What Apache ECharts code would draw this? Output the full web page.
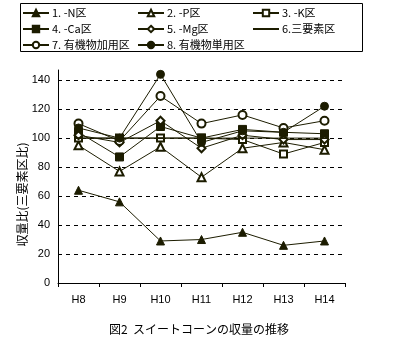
<!DOCTYPE html>
<html><head><meta charset="utf-8">
<script src="https://cdn.jsdelivr.net/npm/echarts@6/dist/echarts.min.js"></script>
<style>html,body{margin:0;padding:0;background:#fff}#c{width:398px;height:353px}</style>
</head><body><div id="c"></div>
<script>
const categories = ['H8','H9','H10','H11','H12','H13','H14'];
const seriesNames = ['1. -N区','2. -P区','3. -K区','4. -Ca区','5. -Mg区','6.三要素区','7. 有機物加用区','8. 有機物単用区'];
const sN  = [64, 56, 29, 30, 35, 26, 29];
const sP  = [95, 77, 94, 73, 93, 97, 92];
const sK  = [100, 100, 100, 100, 99, 89, 97];
const sCa = [104, 87, 108, 100, 106, 104, 103];
const sMg = [102, 97, 112, 93, 102, 99, 99];
const s3  = [100, 100, 100, 100, 100, 100, 100];
const sOA = [110, 98, 129, 110, 116, 107, 112];
const sOS = [107, 100, 144, 97, 105, 104, 122];
const yTicks = [0, 20, 40, 60, 80, 100, 120, 140];
const yAxisName = '収量比(三要素区比)';
const titleText = '図2  スイートコーンの収量の推移';

const C = '#1c1c00';
const FONT = '"Noto Sans CJK JP", sans-serif';
const values = [sN, sP, sK, sCa, sMg, s3, sOA, sOS];
const DASH = 'path://M0,0 L0.01,0 L0,0.01 Z M0,3.8 L10,3.8 L10,6.2 L0,6.2 Z M10,10 L9.99,10 L10,9.99 Z';
const symbols = ['triangle','emptyTriangle','emptyRect','rect','emptyDiamond',DASH,'emptyCircle','circle'];
const sizes = [8, 8, 7, 8, 8, 8, 8, 8];

const series = seriesNames.map((n, i) => ({
  name: n, type: 'line', data: values[i],
  symbol: symbols[i], symbolSize: sizes[i],
  lineStyle: { color: C, width: 1 },
  itemStyle: { color: C, borderColor: C, borderWidth: i === 5 ? 0 : 1 },
  showAllSymbol: true, animation: false, z: 2 + i
}));

function mkLegend(names, left) {
  return {
    data: names, orient: 'vertical', left: left, top: 7,
    itemWidth: 26, itemHeight: 8, itemGap: 4,
    textStyle: { fontFamily: FONT, fontSize: 11, color: '#000', lineHeight: 12, padding: [0,0,0,-2] },
    padding: 0, inactiveColor: '#ccc'
  };
}

const chart = echarts.init(document.getElementById('c'));
chart.setOption({
  backgroundColor: '#fff',
  animation: false,
  title: { text: titleText, left: 'center', top: 318,
    textStyle: { fontFamily: FONT, fontSize: 12, fontWeight: 'normal', color: '#000' } },
  legend: [
    mkLegend([seriesNames[0], seriesNames[3], seriesNames[6]], 22),
    mkLegend([seriesNames[1], seriesNames[4], seriesNames[7]], 137),
    mkLegend([seriesNames[2], seriesNames[5]], 252)
  ],
  graphic: [{ type: 'rect', shape: { x: 20.5, y: 3.5, width: 342, height: 48 },
    style: { fill: 'none', stroke: '#000', lineWidth: 1 }, silent: true }],
  grid: { left: 58, right: 53, top: 70, bottom: 70 },
  xAxis: {
    type: 'category', data: categories, boundaryGap: true,
    axisLine: { lineStyle: { color: '#000', width: 1 } },
    axisTick: { show: true, length: 4, inside: false, lineStyle: { color: '#000' } },
    axisLabel: { fontFamily: '"Liberation Sans", Arial, sans-serif', fontSize: 11, color: '#000', margin: 11 }
  },
  yAxis: {
    type: 'value', min: yTicks[0], max: 147, interval: 20,
    name: yAxisName, nameLocation: 'middle', nameGap: 30, nameRotate: 90, nameMoveOverlap: false,
    nameTextStyle: { fontFamily: FONT, fontSize: 12, color: '#000', padding: [0, 36, 0, 0] },
    axisLine: { show: true, lineStyle: { color: '#000', width: 1 } },
    axisTick: { show: false },
    axisLabel: { fontFamily: '"Liberation Sans", Arial, sans-serif', fontSize: 11, color: '#000', margin: 8,
      showMaxLabel: false, formatter: v => (yTicks.indexOf(v) >= 0 ? String(v) : '') },
    splitLine: { show: true, showMinLine: false, showMaxLine: false,
      lineStyle: { color: '#000', type: [4, 4], width: 1 } }
  },
  series: series
});
</script></body></html>
